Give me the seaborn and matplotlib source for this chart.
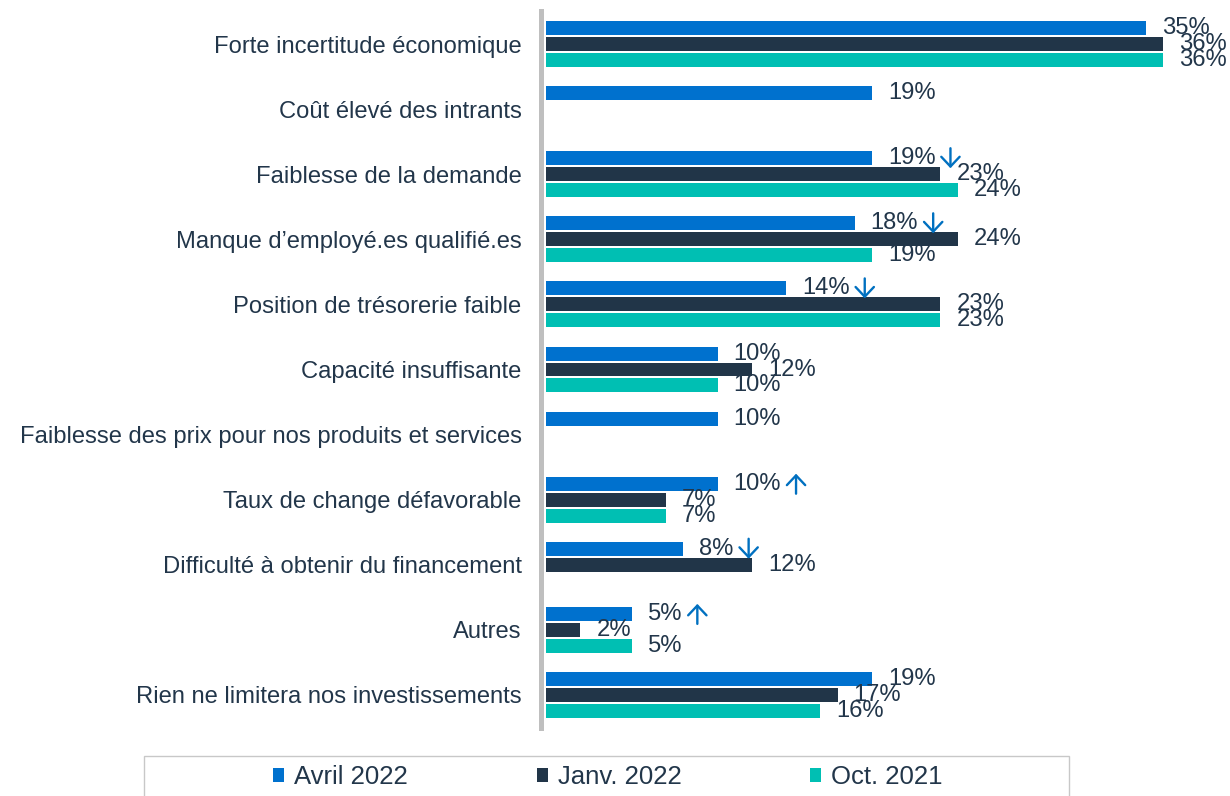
import numpy as np
import pandas as pd
import matplotlib
matplotlib.use('Agg')
import matplotlib.pyplot as plt
import seaborn as sns
from matplotlib.patches import Patch, Rectangle

categories = [
    'Forte incertitude économique',
    'Coût élevé des intrants',
    'Faiblesse de la demande',
    'Manque d’employé.es qualifié.es',
    'Position de trésorerie faible',
    'Capacité insuffisante',
    'Faiblesse des prix pour nos produits et services',
    'Taux de change défavorable',
    'Difficulté à obtenir du financement',
    'Autres',
    'Rien ne limitera nos investissements',
]
avril_2022 = [35, 19, 19, 18, 14, 10, 10, 10, 8, 5, 19]
janv_2022 = [36, np.nan, 23, 24, 23, 12, np.nan, 7, 12, 2, 17]
oct_2021 = [36, np.nan, 24, 19, 23, 10, np.nan, 7, np.nan, 5, 16]
series_names = ['Avril 2022', 'Janv. 2022', 'Oct. 2021']
# trend vs previous survey, drawn after the Avril 2022 label: -1 down, +1 up
trend = [0, 0, -1, -1, -1, 0, 0, 1, -1, 1, 0]

colors = ['#0071CE', '#213548', '#00BFB3']
text_color = '#22364A'
arrow_color = '#0070C0'

rows = []
for name, values in zip(series_names, [avril_2022, janv_2022, oct_2021]):
    for cat, v in zip(categories, values):
        rows.append({'categorie': cat, 'serie': name, 'valeur': v})
df = pd.DataFrame(rows).dropna()

plt.rcParams['font.family'] = ['Liberation Sans', 'DejaVu Sans']

W, H = 1230, 796
fig = plt.figure(figsize=(W / 100, H / 100), dpi=100)
ax = fig.add_axes([541 / W, 1 - 727.5 / H, 684 / W, 716 / H])

sns.barplot(data=df, y='categorie', x='valeur', hue='serie', order=categories,
            hue_order=series_names, palette=colors, saturation=1, orient='h',
            width=0.737, gap=0.125, legend=False, errorbar=None, ax=ax)

ax.set_xlim(-0.3, 39.6)
ax.set_ylim(10.5, -0.5)
ax.set_xticks([])
ax.set_xlabel('')
ax.set_ylabel('')
for side in ['top', 'right', 'bottom']:
    ax.spines[side].set_visible(False)
ax.spines['left'].set_color('#BFBFBF')
ax.spines['left'].set_linewidth(3.6)
ax.tick_params(axis='y', length=0, pad=14, labelsize=17.1, labelcolor=text_color)

label_sets = []
for cont in ax.containers:
    texts = ax.bar_label(cont, fmt='%.0f%%', padding=11.5, fontsize=17.1,
                         color=text_color, clip_on=False)
    label_sets.append((cont, texts))

# arrows after the Avril 2022 labels
fig.canvas.draw()
renderer = fig.canvas.get_renderer()
cont, texts = label_sets[0]
for bar, txt in zip(cont.patches, texts):
    idx = int(round(bar.get_y() + bar.get_height() / 2))
    t = trend[idx]
    if t == 0:
        continue
    bb = txt.get_window_extent(renderer)
    xc = bb.x1 + 15
    yc = (bb.y0 + bb.y1) / 2
    start = (xc, yc - 10 * t)
    end = (xc, yc + 10 * t)
    ax.annotate('', xy=end, xycoords='figure pixels', xytext=start,
                textcoords='figure pixels', annotation_clip=False,
                arrowprops=dict(arrowstyle='->,head_length=0.35,head_width=0.33',
                                mutation_scale=20, lw=1.7, color=arrow_color,
                                shrinkA=0, shrinkB=0))

# legend
handles = [Patch(facecolor=c, edgecolor='none') for c in colors]
fig.legend(handles, series_names, loc='center', bbox_to_anchor=(608 / W, 1 - 777 / H),
           ncol=3, frameon=False, fontsize=18.5, handlelength=0.42, handleheight=0.5,
           handletextpad=0.4, columnspacing=5.0, labelcolor=text_color)
fig.patches.append(Rectangle((144 / W, 1 - 820 / H), 925 / W, 64 / H,
                             transform=fig.transFigure, fill=False,
                             edgecolor='#C8C8C8', linewidth=1))

plt.savefig('out.png', dpi=100)
